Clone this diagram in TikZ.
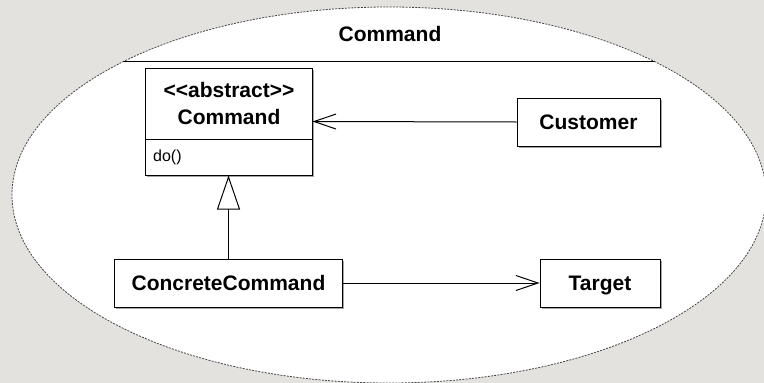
\documentclass[tikz,border=0pt]{standalone}
\usepackage{fontspec}
\setmainfont{Liberation Sans}
\usetikzlibrary{arrows.meta,shapes.geometric}

\definecolor{paper}{RGB}{228,226,223}
\definecolor{rim}{RGB}{70,70,70}
\definecolor{shade}{RGB}{165,165,165}

\tikzset{
  x=1pt, y=-1pt,
  classbox/.style={draw=black, fill=white, line width=1pt, inner sep=0pt,
    text height=15pt, text depth=0pt,
    font=\fontsize{21}{25}\selectfont\bfseries},
  boxshade/.style={fill=shade},
  titletext/.style={font=\fontsize{21}{25}\selectfont\bfseries, inner sep=0pt,
    text height=15pt, text depth=0pt},
  optext/.style={font=\fontsize{16}{19}\selectfont, inner sep=0pt, anchor=west},
  assoc/.style={draw=black, line width=1pt, -{Straight Barb[length=22pt,width=15pt,line width=1pt]}},
  inherit/.style={draw=black, line width=1pt, -{Triangle[open,fill=white,length=34pt,width=23pt,line width=1pt]}},
}

\begin{document}
\begin{tikzpicture}
  % page and backdrop
  \useasboundingbox (0,0) rectangle (764,383);
  \fill[paper] (0,0) rectangle (764,383);

  % package outline
  \node[ellipse, draw=none, minimum width=754pt, minimum height=376pt, inner sep=0pt] (pkg) at (389,195) {};
  \fill[white] (389,195) ellipse [x radius=377, y radius=188];
  \draw[rim, line width=0.8pt, dash pattern=on 2pt off 1.2pt] (389,195) ellipse [x radius=377, y radius=188];
  \begin{scope}
    \clip (389,195) ellipse [x radius=377, y radius=188];
    \draw[black, line width=1pt] (0,61) -- (764,61);
  \end{scope}
  \node[titletext] (pkgname) at (390,34) {Command};

  % box shadows
  \fill[boxshade] (146.5,69.5) rectangle (313.5,176.5);
  \fill[boxshade] (518.5,99.5) rectangle (661.5,147.5);
  \fill[boxshade] (116,260.5) rectangle (344,308.5);
  \fill[boxshade] (541.5,260.5) rectangle (661.5,308.5);

  % abstract class with its operation compartment
  \node[classbox, minimum width=167pt, minimum height=107pt] (cmd) at (228.5,121.5) {};
  \coordinate (sepL) at (145,139);
  \coordinate (sepR) at (312,139);
  \draw[black, line width=1pt] (sepL) -- (sepR);
  \node[titletext] (stereo) at (229,89.5) {<\kern0pt<abstract>\kern0pt>};
  \node[titletext] (cmdname) at (229,116.5) {Command};
  \node[optext] (op) at (153,157) {do()};

  % other classes
  \node[classbox, minimum width=143pt, minimum height=48pt] (customer) at (588.5,122) {Customer};
  \node[classbox, minimum width=228pt, minimum height=48pt] (concrete) at (228.5,283) {ConcreteCommand};
  \node[classbox, minimum width=120pt, minimum height=48pt] (target) at (600,283) {Target};

  % relations
  \draw[assoc] (customer.west) -- (cmd.east);
  \draw[assoc] (concrete.east) -- (target.west);
  \draw[inherit] (concrete.north) -- (cmd.south);
\end{tikzpicture}
\end{document}
